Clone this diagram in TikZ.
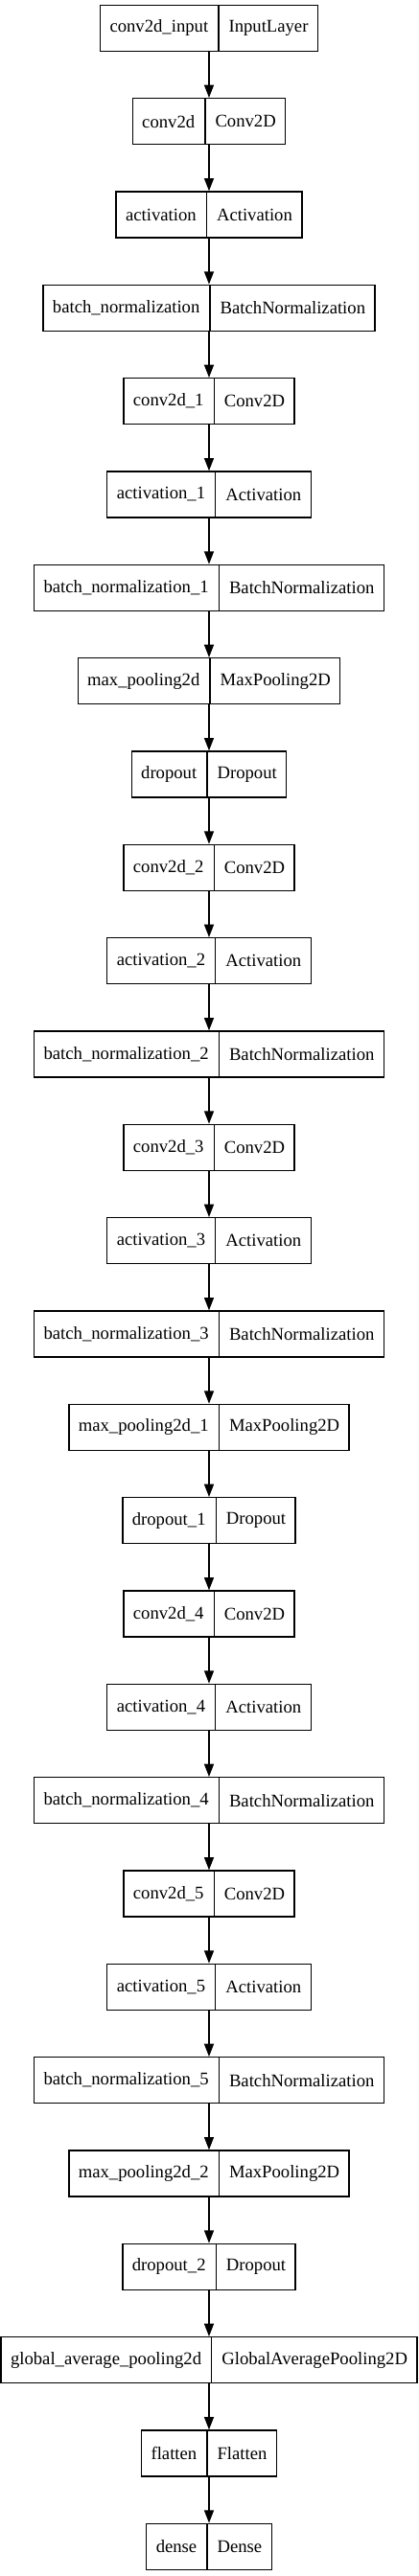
\documentclass[tikz,border=0pt]{standalone}
\usepackage{fontspec}
\setmainfont{Liberation Serif}
\usepackage{tikz}
\usetikzlibrary{shapes.multipart, arrows.meta}

\begin{document}
\begin{tikzpicture}[layer/.style={draw, line width=1pt, rectangle split, rectangle split horizontal, rectangle split parts=2, inner xsep=7.5pt, inner ysep=0pt, minimum height=36pt, font=\fontsize{14}{16}\selectfont}, flow/.style={-{Triangle[length=10pt, width=7.5pt]}, line width=1pt}]
            \useasboundingbox (0,0) rectangle (327pt,-2016pt);
            % Layers -- one record every 73pt, all centred on x=163.5pt
            \node[layer] (in1) at (163.5pt, -22pt) {conv2d\_input \nodepart{two} InputLayer};
            \node[layer] (conv1) at (163.5pt, -95pt) {conv2d \nodepart{two} Conv2D};
            \node[layer] (act1) at (163.5pt, -168pt) {activation \nodepart{two} Activation};
            \node[layer] (bn1) at (163.5pt, -241pt) {batch\_normalization \nodepart{two} BatchNormalization};
            \node[layer] (conv2) at (163.5pt, -314pt) {conv2d\_1 \nodepart{two} Conv2D};
            \node[layer] (act2) at (163.5pt, -387pt) {activation\_1 \nodepart{two} Activation};
            \node[layer] (bn2) at (163.5pt, -460pt) {batch\_normalization\_1 \nodepart{two} BatchNormalization};
            \node[layer] (pool1) at (163.5pt, -533pt) {max\_pooling2d \nodepart{two} MaxPooling2D};
            \node[layer] (drop1) at (163.5pt, -606pt) {dropout \nodepart{two} Dropout};
            \node[layer] (conv3) at (163.5pt, -679pt) {conv2d\_2 \nodepart{two} Conv2D};
            \node[layer] (act3) at (163.5pt, -752pt) {activation\_2 \nodepart{two} Activation};
            \node[layer] (bn3) at (163.5pt, -825pt) {batch\_normalization\_2 \nodepart{two} BatchNormalization};
            \node[layer] (conv4) at (163.5pt, -898pt) {conv2d\_3 \nodepart{two} Conv2D};
            \node[layer] (act4) at (163.5pt, -971pt) {activation\_3 \nodepart{two} Activation};
            \node[layer] (bn4) at (163.5pt, -1044pt) {batch\_normalization\_3 \nodepart{two} BatchNormalization};
            \node[layer] (pool2) at (163.5pt, -1117pt) {max\_pooling2d\_1 \nodepart{two} MaxPooling2D};
            \node[layer] (drop2) at (163.5pt, -1190pt) {dropout\_1 \nodepart{two} Dropout};
            \node[layer] (conv5) at (163.5pt, -1263pt) {conv2d\_4 \nodepart{two} Conv2D};
            \node[layer] (act5) at (163.5pt, -1336pt) {activation\_4 \nodepart{two} Activation};
            \node[layer] (bn5) at (163.5pt, -1409pt) {batch\_normalization\_4 \nodepart{two} BatchNormalization};
            \node[layer] (conv6) at (163.5pt, -1482pt) {conv2d\_5 \nodepart{two} Conv2D};
            \node[layer] (act6) at (163.5pt, -1555pt) {activation\_5 \nodepart{two} Activation};
            \node[layer] (bn6) at (163.5pt, -1628pt) {batch\_normalization\_5 \nodepart{two} BatchNormalization};
            \node[layer] (pool3) at (163.5pt, -1701pt) {max\_pooling2d\_2 \nodepart{two} MaxPooling2D};
            \node[layer] (drop3) at (163.5pt, -1774pt) {dropout\_2 \nodepart{two} Dropout};
            \node[layer] (gap1) at (163.5pt, -1847pt) {global\_average\_pooling2d \nodepart{two} GlobalAveragePooling2D};
            \node[layer] (flat1) at (163.5pt, -1920pt) {flatten \nodepart{two} Flatten};
            \node[layer] (out1) at (163.5pt, -1993pt) {dense \nodepart{two} Dense};
            
            % Connections
            \draw[flow] (in1.south) -- (conv1.north);
            \draw[flow] (conv1.south) -- (act1.north);
            \draw[flow] (act1.south) -- (bn1.north);
            \draw[flow] (bn1.south) -- (conv2.north);
            \draw[flow] (conv2.south) -- (act2.north);
            \draw[flow] (act2.south) -- (bn2.north);
            \draw[flow] (bn2.south) -- (pool1.north);
            \draw[flow] (pool1.south) -- (drop1.north);
            \draw[flow] (drop1.south) -- (conv3.north);
            \draw[flow] (conv3.south) -- (act3.north);
            \draw[flow] (act3.south) -- (bn3.north);
            \draw[flow] (bn3.south) -- (conv4.north);
            \draw[flow] (conv4.south) -- (act4.north);
            \draw[flow] (act4.south) -- (bn4.north);
            \draw[flow] (bn4.south) -- (pool2.north);
            \draw[flow] (pool2.south) -- (drop2.north);
            \draw[flow] (drop2.south) -- (conv5.north);
            \draw[flow] (conv5.south) -- (act5.north);
            \draw[flow] (act5.south) -- (bn5.north);
            \draw[flow] (bn5.south) -- (conv6.north);
            \draw[flow] (conv6.south) -- (act6.north);
            \draw[flow] (act6.south) -- (bn6.north);
            \draw[flow] (bn6.south) -- (pool3.north);
            \draw[flow] (pool3.south) -- (drop3.north);
            \draw[flow] (drop3.south) -- (gap1.north);
            \draw[flow] (gap1.south) -- (flat1.north);
            \draw[flow] (flat1.south) -- (out1.north);
        \end{tikzpicture}
\end{document}
